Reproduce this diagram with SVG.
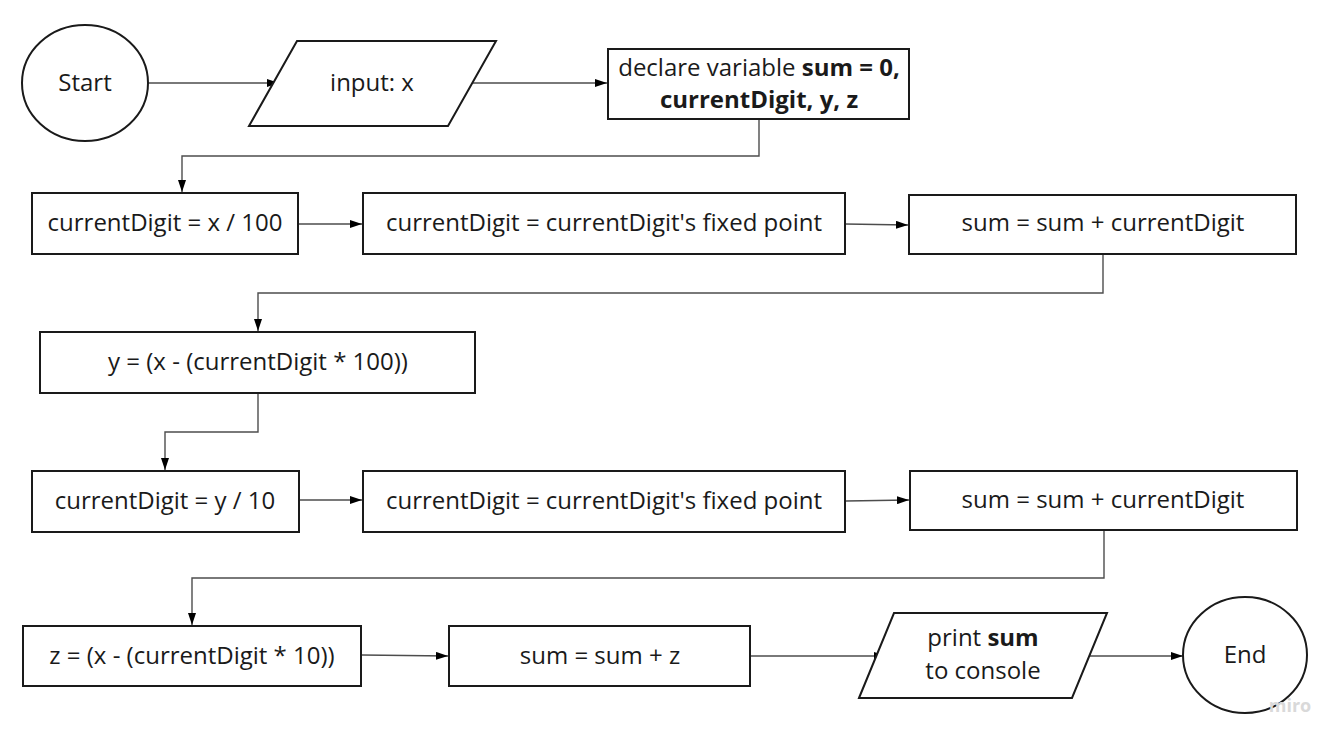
<svg xmlns="http://www.w3.org/2000/svg" width="1344" height="743" viewBox="0 0 1344 743">
<style>
.shape{fill:#fff;stroke:#1a1a1a;stroke-width:2}
.t{font-family:"Open Sans","Liberation Sans",sans-serif;font-size:24px;fill:#1a1a1a;text-anchor:middle;dominant-baseline:central}
.b{font-weight:bold}
.c{fill:none;stroke:#4d4d4d;stroke-width:1.4;marker-end:url(#ah)}
</style>
<defs>
<marker id="ah" viewBox="0 0 12 8" refX="12" refY="4" markerWidth="12" markerHeight="8" markerUnits="userSpaceOnUse" orient="auto">
<path d="M0,0 L12,4 L0,8 Z" fill="#000"/>
</marker>
</defs>
<rect width="1344" height="743" fill="#fff"/>
<g id="connectors">
<path class="c" d="M148,83 H279"/>
<path class="c" d="M468,83 H607"/>
<path class="c" d="M759,119 V156 H182 V192"/>
<path class="c" d="M298,224 H362"/>
<path class="c" d="M845,224 L908,225"/>
<path class="c" d="M1103,254 V293 H258 V331"/>
<path class="c" d="M258,393 V432 H165 V470"/>
<path class="c" d="M299,500 H362"/>
<path class="c" d="M846,501 L909,500"/>
<path class="c" d="M1104,530 V578 H192 V625"/>
<path class="c" d="M362,655 L448,656"/>
<path class="c" d="M751,656 H886"/>
<path class="c" d="M1078,656 H1183"/>
</g>
<g id="start">
<ellipse class="shape" cx="85" cy="83" rx="63" ry="58"/>
<text class="t" x="85" y="81">Start</text>
</g>
<g id="input">
<polygon class="shape" points="249,126 297,41 496,41 448,126"/>
<text class="t" x="372" y="81">input: x</text>
</g>
<g id="declare">
<rect class="shape" x="608" y="49" width="301" height="70"/>
<text class="t" x="759" y="66">declare variable <tspan class="b">sum = 0,</tspan></text>
<text class="t b" x="759" y="98">currentDigit, y, z</text>
</g>
<g id="digit100">
<rect class="shape" x="32" y="193" width="266" height="61"/>
<text class="t" x="165" y="221">currentDigit = x / 100</text>
</g>
<g id="fixed1">
<rect class="shape" x="363" y="193" width="482" height="61"/>
<text class="t" x="604" y="221">currentDigit = currentDigit's fixed point</text>
</g>
<g id="sum1">
<rect class="shape" x="909" y="195" width="387" height="59"/>
<text class="t" x="1103" y="221">sum = sum + currentDigit</text>
</g>
<g id="ycalc">
<rect class="shape" x="40" y="332" width="435" height="61"/>
<text class="t" x="258" y="360">y = (x - (currentDigit * 100))</text>
</g>
<g id="digit10">
<rect class="shape" x="32" y="471" width="267" height="61"/>
<text class="t" x="165" y="499">currentDigit = y / 10</text>
</g>
<g id="fixed2">
<rect class="shape" x="363" y="471" width="482" height="61"/>
<text class="t" x="604" y="499">currentDigit = currentDigit's fixed point</text>
</g>
<g id="sum2">
<rect class="shape" x="910" y="471" width="387" height="59"/>
<text class="t" x="1103" y="498">sum = sum + currentDigit</text>
</g>
<g id="zcalc">
<rect class="shape" x="23" y="626" width="338" height="60"/>
<text class="t" x="192" y="654">z = (x - (currentDigit * 10))</text>
</g>
<g id="sumz">
<rect class="shape" x="449" y="626" width="301" height="60"/>
<text class="t" x="600" y="654">sum = sum + z</text>
</g>
<g id="print">
<polygon class="shape" points="859,698 894,613 1107,613 1072,698"/>
<text class="t" x="983" y="636">print <tspan class="b">sum</tspan></text>
<text class="t" x="983" y="669">to console</text>
</g>
<g id="end">
<ellipse class="shape" cx="1245" cy="655" rx="62" ry="58"/>
<text class="t" x="1245" y="653">End</text>
</g>
<text x="1290" y="712" font-family="'Open Sans','Liberation Sans',sans-serif" font-size="18" font-weight="bold" fill="#d9d9d9" text-anchor="middle">miro</text>
</svg>
